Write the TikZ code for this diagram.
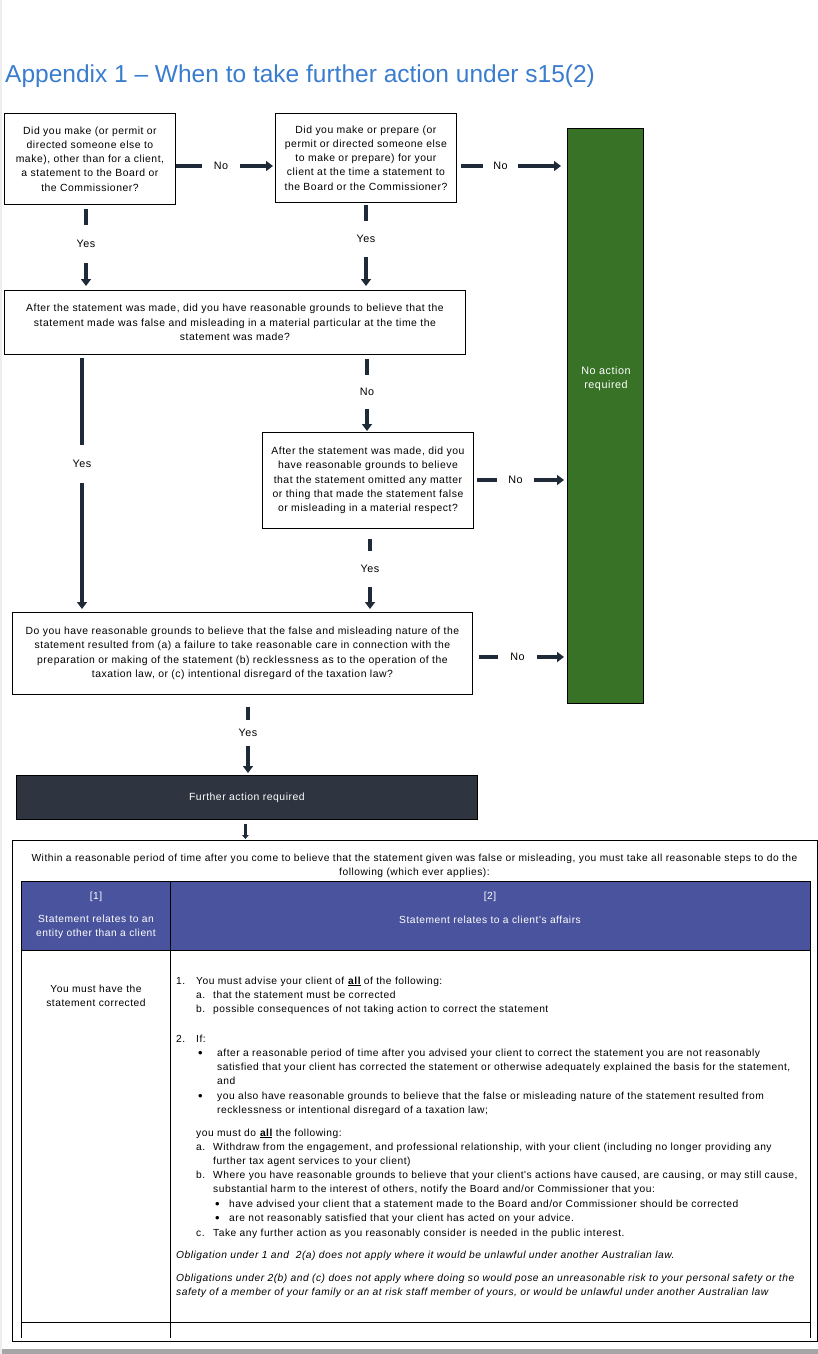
\documentclass[tikz,border=0pt]{standalone}
\usepackage{fontspec}
\setmainfont{Liberation Sans}
\newfontfamily\lsp{Liberation Sans}[LetterSpace=5]
\usetikzlibrary{arrows.meta}
\definecolor{ttl}{RGB}{58,124,206}
\definecolor{conn}{RGB}{30,42,56}
\definecolor{grn}{RGB}{55,114,38}
\definecolor{drk}{RGB}{46,52,64}
\definecolor{hdr}{RGB}{74,84,158}
\newcommand\tx[4]{\node[tt, anchor=base west] (#1) at (#2,#3) {#4};}
\newcommand\bul{{\fontsize{13}{13}\selectfont •}}
\begin{document}
\begin{tikzpicture}[x=1pt,y=-1pt,
  qbox/.style={draw=black, line width=0.9pt, fill=white, align=center, inner sep=0pt, anchor=north west, font=\fontsize{10.4}{14.3}\selectfont\lsp},
  seg/.style={line width=3.6pt, draw=conn},
  arr/.style={line width=3.6pt, draw=conn, -{Triangle[length=7pt,width=10pt]}},
  lbl/.style={font=\fontsize{10.8}{12}\selectfont\lsp, inner sep=0pt},
  tt/.style={font=\fontsize{10.25}{14.2}\selectfont\lsp, inner sep=0pt},
  hd/.style={font=\fontsize{10.25}{14.2}\selectfont\lsp, inner sep=0pt, text=white, align=center}
]
\useasboundingbox (0,0) rectangle (818,1354);
\fill[black!7] (0,0) rectangle (2,1354);
\fill[black!35] (2,1349) rectangle (818,1354);

% title
\node[anchor=base west, inner sep=0pt, text=ttl, font=\fontsize{24.5}{28}\selectfont] (title) at (5,82) {Appendix 1 -- When to take further action under s15(2)};

% boxes
\node[qbox, minimum width=171pt, minimum height=91pt] (b1) at (4,113) {Did you make (or permit or\\directed someone else to\\make), other than for a client,\\a statement to the Board or\\the Commissioner?};
\node[qbox, minimum width=181pt, minimum height=89pt] (b2) at (275,113) {Did you make or prepare (or\\permit or directed someone else\\to make or prepare) for your\\client at the time a statement to\\the Board or the Commissioner?};
\node[qbox, minimum width=461pt, minimum height=64pt] (b3) at (4,290) {After the statement was made, did you have reasonable grounds to believe that the\\statement made was false and misleading in a material particular at the time the\\statement was made?};
\node[qbox, minimum width=211pt, minimum height=96pt] (b4) at (262,432) {After the statement was made, did you\\have reasonable grounds to believe\\that the statement omitted any matter\\or thing that made the statement false\\or misleading in a material respect?};
\node[qbox, minimum width=460pt, minimum height=82pt] (b5) at (12,612) {Do you have reasonable grounds to believe that the false and misleading nature of the\\statement resulted from (a) a failure to take reasonable care in connection with the\\preparation or making of the statement (b) recklessness as to the operation of the\\taxation law, or (c) intentional disregard of the taxation law?};
\node[draw=black, line width=0.8pt, fill=grn, minimum width=76pt, minimum height=575pt, anchor=north west, inner sep=0pt] (green) at (567,128) {};
\node[align=center, inner sep=0pt, text=white, font=\fontsize{10.8}{14}\selectfont\lsp] (gtxt) at (606,379) {No action\\required};
\node[draw=black, line width=0.8pt, fill=drk, minimum width=461pt, minimum height=44pt, anchor=north west, inner sep=0pt, text=white, font=\fontsize{10.4}{14}\selectfont\lsp] (dark) at (16,775) {Further action required};

% labels
\node[lbl, minimum width=38pt] (no1) at (221,166) {No};
\node[lbl, minimum width=35pt] (no2) at (500.5,166) {No};
\node[lbl, minimum height=38pt] (yes1) at (86,244) {Yes};
\node[lbl, minimum height=36pt] (yes2) at (366,239) {Yes};
\node[lbl, minimum height=38pt] (yes3) at (82,464) {Yes};
\node[lbl, minimum height=34pt] (no3) at (367,392) {No};
\node[lbl, minimum width=37pt] (no4) at (515.5,480) {No};
\node[lbl, minimum height=36pt] (yes4) at (370,569) {Yes};
\node[lbl, minimum width=39pt] (no5) at (517.5,657) {No};
\node[lbl, minimum height=25pt] (yes5) at (248,733) {Yes};

% connectors
\draw[seg] (b1.east |- no1.west) -- (no1.west);
\draw[arr, shorten >=2pt] (no1.east) -- (b2.west |- no1.east);
\draw[seg, shorten <=4pt] (b2.east |- no2.west) -- (no2.west);
\draw[arr, shorten >=6pt] (no2.east) -- (green.west |- no2.east);
\draw[seg, shorten <=4pt] (yes1.north |- b1.south) -- (yes1.north);
\draw[arr, shorten >=4pt] (yes1.south) -- (yes1.south |- b3.north);
\draw[seg, shorten <=2pt] (yes2.north |- b2.south) -- (yes2.north);
\draw[arr, shorten >=4pt] (yes2.south) -- (yes2.south |- b3.north);
\draw[seg, shorten <=3pt] (yes3.north |- b3.south) -- (yes3.north);
\draw[arr, shorten >=3pt] (yes3.south) -- (yes3.south |- b5.north);
\draw[seg, shorten <=4pt] (no3.north |- b3.south) -- (no3.north);
\draw[arr, shorten >=1pt] (no3.south) -- (no3.south |- b4.north);
\draw[seg, shorten <=3pt] (b4.east |- no4.west) -- (no4.west);
\draw[arr, shorten >=3pt] (no4.east) -- (green.west |- no4.east);
\draw[seg, shorten <=10pt] (yes4.north |- b4.south) -- (yes4.north);
\draw[arr, shorten >=3pt] (yes4.south) -- (yes4.south |- b5.north);
\draw[seg, shorten <=6pt] (b5.east |- no5.west) -- (no5.west);
\draw[arr, shorten >=3pt] (no5.east) -- (green.west |- no5.east);
\draw[seg, shorten <=12pt] (yes5.north |- b5.south) -- (yes5.north);
\draw[arr, shorten >=2pt] (yes5.south) -- (yes5.south |- dark.north);

% table
\node[draw=black, line width=1pt, minimum width=805pt, minimum height=501pt, anchor=north west, inner sep=0pt] (tbl) at (12,840) {};
\draw[line width=2.4pt, conn, -{Triangle[length=4pt,width=6.5pt]}, shorten <=4pt, shorten >=1pt] ([xshift=-1.5pt]dark.south) -- ([xshift=-1.5pt]dark.south |- tbl.north);
\node[tt, align=center] (intro) at (414.5,866) {Within a reasonable period of time after you come to believe that the statement given was false or misleading, you must take all reasonable steps to do the\\following (which ever applies):};
\fill[hdr] (21,881) rectangle (810,950);
\draw[line width=1pt] (21,881) -- (810,881);
\draw[line width=1pt] (21,950) -- (810,950);
\draw[line width=1pt] (21,1322) -- (810,1322);
\draw[line width=1pt] (21,881) -- (21,1337.5);
\draw[line width=1pt] (170,881) -- (170,1337.5);
\draw[line width=1pt] (810,881) -- (810,1337.5);
\node[hd] (h1a) at (96,897) {[1]};
\node[hd] (h1b) at (96,927) {Statement relates to an\\entity other than a client};
\node[hd] (h2a) at (490,897) {[2]};
\node[hd] (h2b) at (490,920) {Statement relates to a client's affairs};
\node[tt, align=center] (lc) at (96,996) {You must have the\\statement corrected};

\tx{r1n}{176}{984}{1.}
\tx{r1}{196}{984}{You must advise your client of \textbf{\underline{all}} of the following:}
\tx{r1an}{196}{998}{a.}
\tx{r1a}{213}{998}{that the statement must be corrected}
\tx{r1bn}{196}{1012}{b.}
\tx{r1b}{213}{1012}{possible consequences of not taking action to correct the statement}
\tx{r2n}{176}{1042}{2.}
\tx{r2}{196}{1042}{If:}
\tx{r2p1}{198}{1057}{\bul}
\tx{r2a1}{217}{1056}{after a reasonable period of time after you advised your client to correct the statement you are not reasonably}
\tx{r2a2}{217}{1070}{satisfied that your client has corrected the statement or otherwise adequately explained the basis for the statement,}
\tx{r2a3}{217}{1084}{and}
\tx{r2p2}{198}{1100}{\bul}
\tx{r2b1}{217}{1099}{you also have reasonable grounds to believe that the false or misleading nature of the statement resulted from}
\tx{r2b2}{217}{1113}{recklessness or intentional disregard of a taxation law;}
\tx{r3}{196}{1136}{you must do \textbf{\underline{all}} the following:}
\tx{r3an}{196}{1150}{a.}
\tx{r3a1}{213}{1150}{Withdraw from the engagement, and professional relationship, with your client (including no longer providing any}
\tx{r3a2}{213}{1164}{further tax agent services to your client)}
\tx{r3bn}{196}{1178}{b.}
\tx{r3b1}{213}{1178}{Where you have reasonable grounds to believe that your client's actions have caused, are causing, or may still cause,}
\tx{r3b2}{213}{1192}{substantial harm to the interest of others, notify the Board and/or Commissioner that you:}
\tx{r3p1}{215}{1208}{\bul}
\tx{r3b3}{229}{1207}{have advised your client that a statement made to the Board and/or Commissioner should be corrected}
\tx{r3p2}{215}{1222}{\bul}
\tx{r3b4}{229}{1221}{are not reasonably satisfied that your client has acted on your advice.}
\tx{r3cn}{196}{1236}{c.}
\tx{r3c}{213}{1236}{Take any further action as you reasonably consider is needed in the public interest.}
\tx{o1}{176}{1258}{\itshape Obligation under 1 and~ 2(a) does not apply where it would be unlawful under another Australian law.}
\tx{o2}{176}{1281}{\itshape Obligations under 2(b) and (c) does not apply where doing so would pose an unreasonable risk to your personal safety or the}
\tx{o3}{176}{1295}{\itshape safety of a member of your family or an at risk staff member of yours, or would be unlawful under another Australian law}
\end{tikzpicture}
\end{document}
